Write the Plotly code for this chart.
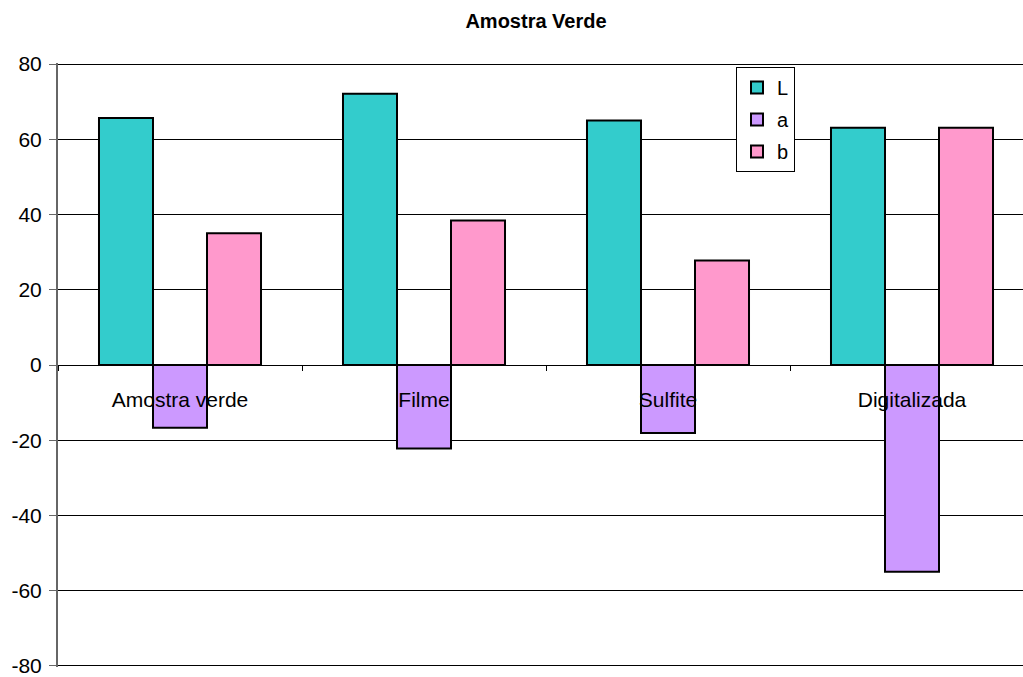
import plotly.graph_objects as go

categories = ["Amostra verde", "Filme", "Sulfite", "Digitalizada"]
L_vals = [65.7, 72.1, 65.0, 63.1]
a_vals = [-16.7, -22.2, -18.1, -55.0]
b_vals = [35.0, 38.4, 27.8, 63.1]
series = [("L", L_vals, "#33CCCC"), ("a", a_vals, "#CC99FF"), ("b", b_vals, "#FF99CC")]
y_ticks = [-80, -60, -40, -20, 0, 20, 40, 60, 80]
y_ticktext = [str(v) for v in y_ticks]

FONT = "Liberation Sans, Arial, sans-serif"
TOP, BOT = 63, 10
PLOT_H = 677 - TOP - BOT

fig = go.Figure()
for name, vals, col in series:
    fig.add_trace(go.Bar(
        x=categories, y=vals, name=name, legendgroup=name,
        marker=dict(color=col, line=dict(color="black", width=2)),
    ))

fig.update_layout(
    width=1023, height=677,
    margin=dict(l=58, r=0, t=TOP, b=BOT),
    paper_bgcolor="white", plot_bgcolor="white",
    barmode="group", bargap=0.336, bargroupgap=0,
    font=dict(family=FONT, size=21, color="black"),
    title=dict(text="<b>Amostra Verde</b>", x=(536 - 58) / 965, xref="paper", xanchor="center",
               y=1 - 21 / 677, yref="container", yanchor="middle",
               font=dict(family=FONT, size=20, color="black")),
    legend=dict(x=(736 - 58) / 965, y=(677 - BOT - 67) / PLOT_H, xanchor="left", yanchor="top",
                bgcolor="white", bordercolor="black", borderwidth=1,
                font=dict(family=FONT, size=20), tracegroupgap=3,
                itemwidth=30),
    showlegend=True,
)
fig.update_yaxes(
    range=[-80.3, 80.3], tickvals=y_ticks, ticktext=y_ticktext,
    showgrid=True, gridcolor="black", gridwidth=1,
    zeroline=False, showline=True, linecolor="#666666", linewidth=2,
    ticks="outside", ticklen=7, tickcolor="#666666", tickfont=dict(size=21),
    ticklabelstandoff=3, ticklabeloverflow="allow",
)
fig.update_xaxes(
    type="category", range=[-0.5, 3.5 - 11 / 244], anchor="free", position=0.5,
    showline=True, linecolor="black", linewidth=1, tickson="boundaries",
    ticks="outside", ticklen=5, tickcolor="black", showgrid=False,
    tickfont=dict(size=21), ticklabelstandoff=16,
)

fig.write_html("out.html", config={"displayModeBar": False},
               post_script="document.body.style.margin='0';")
